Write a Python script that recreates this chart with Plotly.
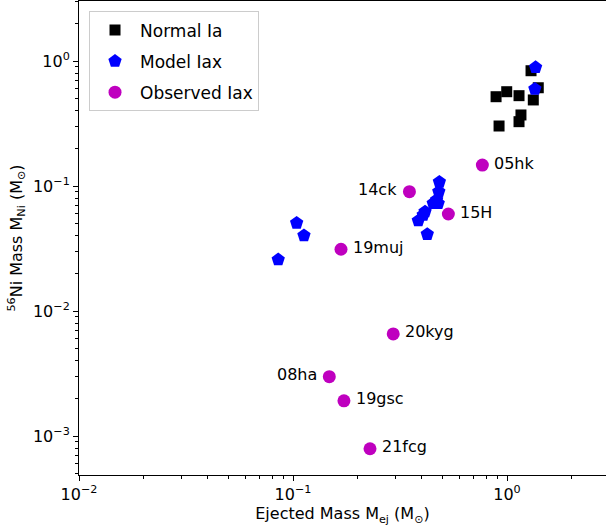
import math
import plotly.graph_objects as go

# Normal Ia (squares)
normal_mej = [1.295, 0.889, 0.997, 1.138, 1.40, 1.327, 1.162, 1.138, 0.918]
normal_mni = [0.836, 0.518, 0.568, 0.528, 0.611, 0.488, 0.370, 0.327, 0.302]

# Model Iax (pentagons)
model_mej = [1.36, 1.35, 0.104, 0.1125, 0.0853, 0.483, 0.480, 0.469, 0.452, 0.477, 0.414, 0.406, 0.385, 0.424]
model_mni = [0.89, 0.597, 0.0506, 0.0402, 0.0258, 0.1076, 0.090, 0.0773, 0.0727, 0.0727, 0.0623, 0.0586, 0.0528, 0.0411]

# Observed Iax (circles)
obs_names = ["05hk", "14ck", "15H", "19muj", "20kyg", "08ha", "19gsc", "21fcg"]
obs_mej = [0.767, 0.350, 0.532, 0.1676, 0.294, 0.1478, 0.173, 0.229]
obs_mni = [0.147, 0.090, 0.0597, 0.0312, 0.00655, 0.00298, 0.00191, 0.000791]
obs_side = ["right", "left", "right", "right", "right", "left", "right", "right"]

# Tick labels
x_exps = [-2, -1, 0]
y_exps = [-3, -2, -1, 0]

FONT = "DejaVu Sans"


def pow_label(e):
    s = str(e).replace("-", "\u2212")
    return "10<sup>" + s + "</sup>"


def minor_vals(e_lo, e_hi):
    return [m * 10 ** e for e in range(e_lo, e_hi + 1) for m in range(2, 10)]


fig = go.Figure()
fig.add_trace(go.Scatter(x=normal_mej, y=normal_mni, mode="markers", name="Normal Ia",
                         legendgroup="a",
                         marker=dict(symbol="square", size=11, color="black")))
fig.add_trace(go.Scatter(x=model_mej, y=model_mni, mode="markers", name="Model Iax",
                         legendgroup="b",
                         marker=dict(symbol="pentagon", size=14, color="#0000ff")))
fig.add_trace(go.Scatter(x=obs_mej, y=obs_mni, mode="markers", name="Observed Iax",
                         legendgroup="c",
                         marker=dict(symbol="circle", size=13, color="#bf00bf")))

for n, xv, yv, side in zip(obs_names, obs_mej, obs_mni, obs_side):
    fig.add_annotation(x=math.log10(xv), y=math.log10(yv), text=n, showarrow=False,
                       xanchor="left" if side == "right" else "right",
                       xshift=10 if side == "right" else -10, yshift=2,
                       font=dict(family=FONT, size=16, color="black"))

axis_common = dict(type="log", showline=True, linecolor="black", linewidth=1, mirror=True,
                   ticks="outside", ticklen=5, tickwidth=1, tickcolor="black",
                   showgrid=False, zeroline=False,
                   tickfont=dict(family=FONT, size=16, color="black"))

fig.update_layout(
    width=606, height=529,
    margin=dict(l=79, r=0, t=1, b=54),
    plot_bgcolor="white", paper_bgcolor="white",
    font=dict(family=FONT, size=16, color="black"),
    xaxis=dict(range=[-2, 0.4626],
               tickmode="array", tickvals=[10 ** e for e in x_exps],
               ticktext=[pow_label(e) for e in x_exps],
               minor=dict(ticks="outside", ticklen=3, tickcolor="black", showgrid=False,
                          tickmode="array", tickvals=minor_vals(-2, 0)),
               title=dict(text="Ejected Mass M<sub>ej</sub> (M<sub>\u2299</sub>)", standoff=2,
                          font=dict(family=FONT, size=16, color="black")),
               **axis_common),
    yaxis=dict(range=[-3.312, 0.48],
               tickmode="array", tickvals=[10 ** e for e in y_exps],
               ticktext=[pow_label(e) for e in y_exps],
               minor=dict(ticks="outside", ticklen=3, tickcolor="black", showgrid=False,
                          tickmode="array", tickvals=minor_vals(-4, 0)),
               title=dict(text="<sup>56</sup>Ni Mass M<sub>Ni</sub> (M<sub>\u2299</sub>)", standoff=6,
                          font=dict(family=FONT, size=16, color="black")),
               **axis_common),
    legend=dict(x=0.019, y=0.978, xanchor="left", yanchor="top",
                bgcolor="white", bordercolor="#cccccc", borderwidth=1,
                font=dict(family=FONT, size=17, color="black"),
                itemwidth=40, tracegroupgap=6),
    showlegend=True,
)

fig.write_html("out.html")
